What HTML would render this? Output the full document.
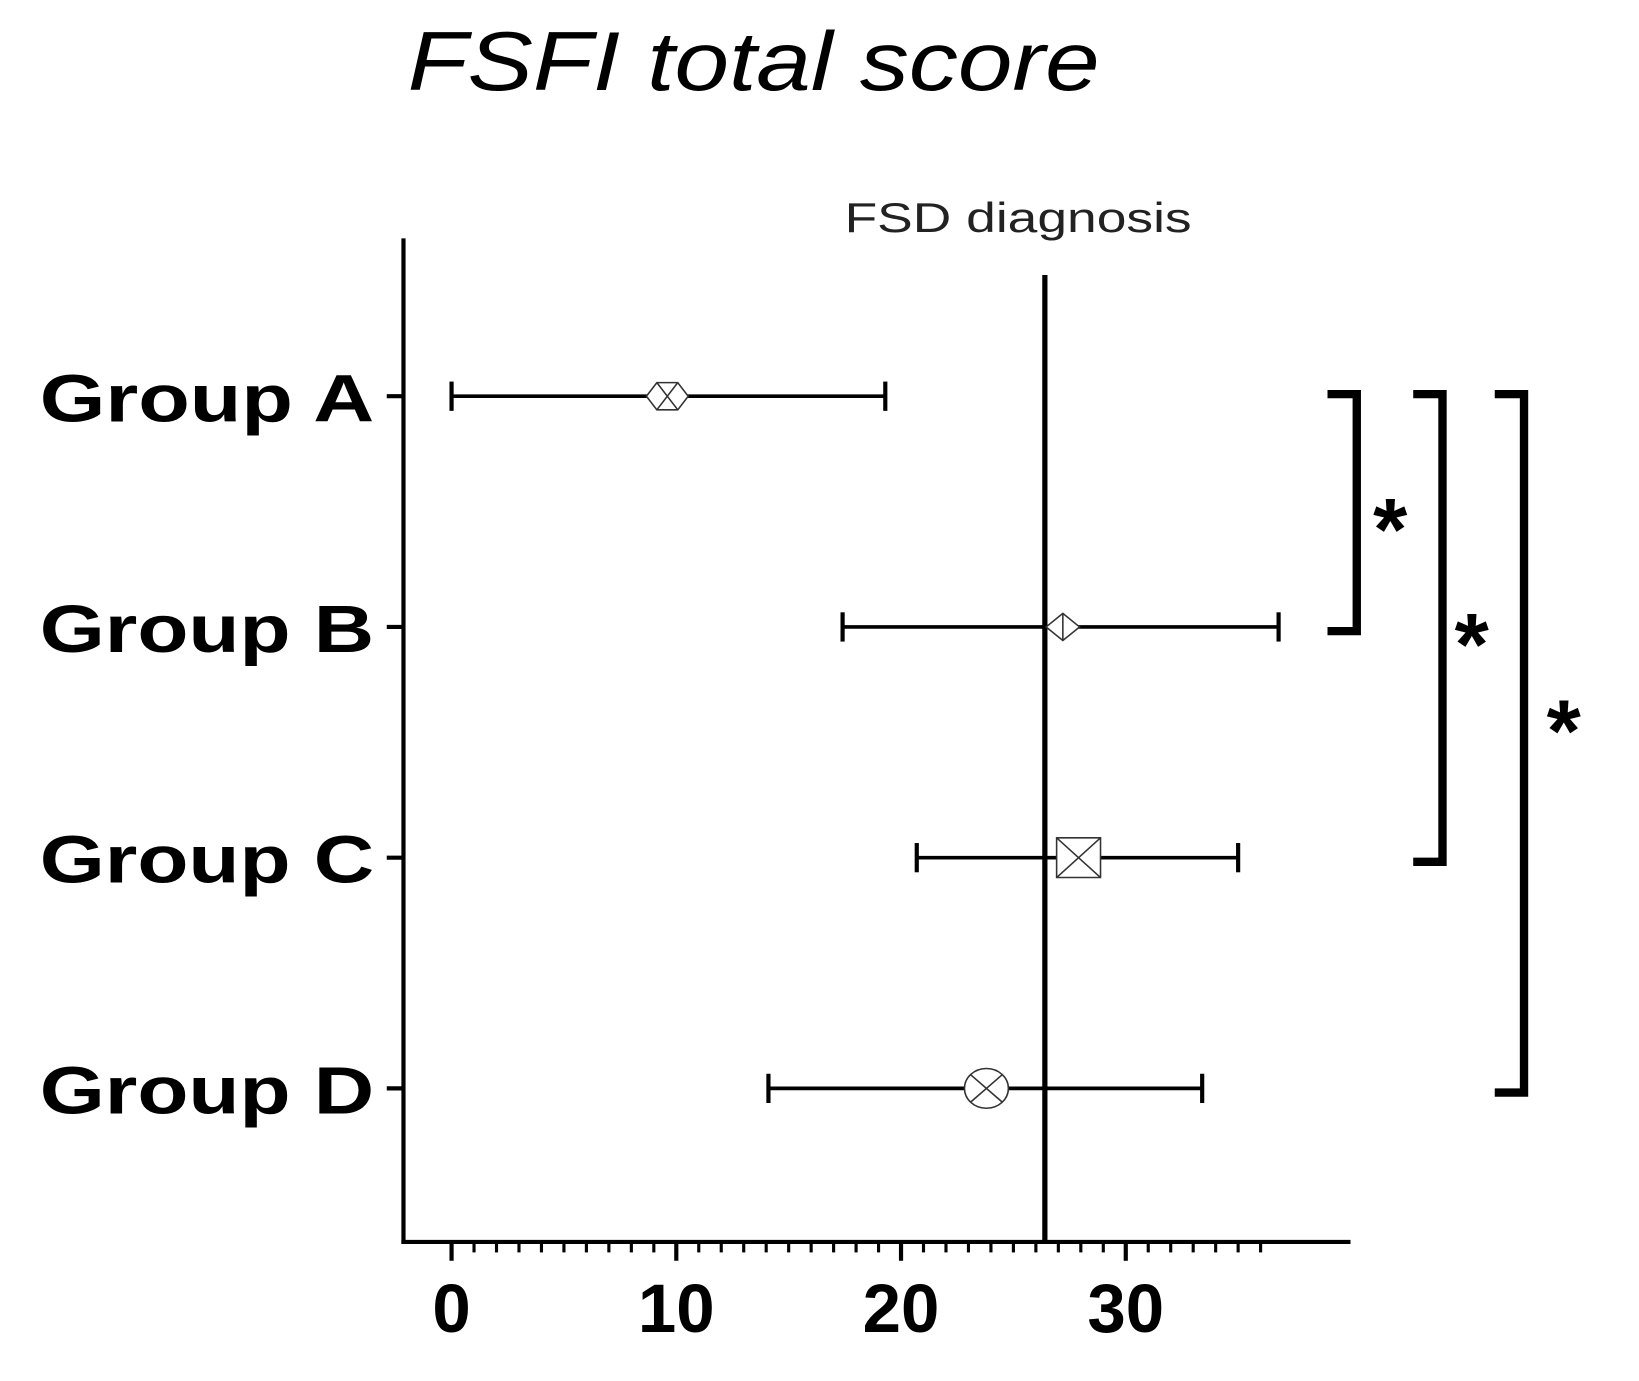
<!DOCTYPE html>
<html><head><meta charset="utf-8"><style>
html,body{margin:0;padding:0;background:#fff;}
svg{display:block;}
</style></head><body>
<svg width="1639" height="1381" viewBox="0 0 1568 1321" preserveAspectRatio="none" xmlns="http://www.w3.org/2000/svg" font-family="Liberation Sans, sans-serif">
<text x="390" y="86" font-size="80" font-style="italic" textLength="662" lengthAdjust="spacingAndGlyphs">FSFI total score</text>
<text x="808" y="222" font-size="40" fill="#222" textLength="332" lengthAdjust="spacingAndGlyphs">FSD diagnosis</text>
<g id="plot"></g>
</svg>
<script>
const groups = ["Group A","Group B","Group C","Group D"];
const means = [9.6, 27.2, 27.9, 23.8];
const lows = [0, 17.4, 20.7, 14.1];
const highs = [19.3, 36.8, 35.0, 33.4];
const xTicks = [0, 10, 20, 30];
const fsdCutoff = 26.4;
const markers = ["hexagon","diamond","square","circle"];
const comparisons = [[0,1],[0,2],[0,3]];

const NS = "http://www.w3.org/2000/svg";
const g = document.getElementById('plot');
const x = v => 432 + v * 21.5;
const y = i => 379 + i * 220.7;
function el(tag, attrs){ const e=document.createElementNS(NS,tag); for(const k in attrs) e.setAttribute(k,attrs[k]); g.appendChild(e); return e; }

let e;
e = el('line',{x1:386,y1:228,x2:386,y2:1190,stroke:'#000','stroke-width':4});
 
e = el('line',{x1:384,y1:1188,x2:1292,y2:1188,stroke:'#000','stroke-width':4});
 
for(let v=0; v<=36; v++){
  const major = v%10===0;
  e = el('line',{x1:x(v),y1:1188,x2:x(v),y2:major?1206:1198,stroke:'#000','stroke-width':major?4:3});
  
  
}
xTicks.forEach(t=>{
  e = el('text',{x:x(t),y:1274,'text-anchor':'middle','font-size':66,'font-weight':'bold'});
  e.textContent = t;
  
  
});
e = el('line',{x1:x(fsdCutoff),y1:263,x2:x(fsdCutoff),y2:1188,stroke:'#000','stroke-width':5});
 

groups.forEach((name,i)=>{
  const yy = y(i);
  e = el('line',{x1:370,y1:yy,x2:386,y2:yy,stroke:'#000','stroke-width':4});
   
  e = el('text',{x:38,y:yy+24,'font-size':64,'font-weight':'bold',textLength:320,lengthAdjust:'spacingAndGlyphs'});
  e.textContent = name;
   
  e = el('line',{x1:x(lows[i]),y1:yy,x2:x(highs[i]),y2:yy,stroke:'#000','stroke-width':3.5});
   
  [lows[i],highs[i]].forEach(v=>{
    e = el('line',{x1:x(v),y1:yy-14,x2:x(v),y2:yy+14,stroke:'#000','stroke-width':4});
     
  });
  const cx = x(means[i]), m = markers[i];
  let d;
  if(m==='hexagon') d=`M${cx-20},${yy} L${cx-10},${yy-13} L${cx+10},${yy-13} L${cx+20},${yy} L${cx+10},${yy+13} L${cx-10},${yy+13} Z M${cx-10},${yy-13} L${cx+10},${yy+13} M${cx+10},${yy-13} L${cx-10},${yy+13}`;
  else if(m==='diamond') d=`M${cx-16},${yy} L${cx},${yy-13} L${cx+16},${yy} L${cx},${yy+13} Z M${cx},${yy-13} L${cx},${yy+13}`;
  else if(m==='square') d=`M${cx-21},${yy-19} h42 v38 h-42 Z M${cx-21},${yy-19} L${cx+21},${yy+19} M${cx+21},${yy-19} L${cx-21},${yy+19}`;
  else d=`M${cx-21},${yy} a21,19 0 1,0 42,0 a21,19 0 1,0 -42,0 M${cx-15},${yy-13} L${cx+15},${yy+13} M${cx+15},${yy-13} L${cx-15},${yy+13}`;
  e = el('path',{d:d,fill:'#fff',stroke:'#333','stroke-width':1.5});
   
});

const bx = [1298, 1380, 1458];
const sx = [1330, 1408, 1496];
const sy = [535, 645, 728];
comparisons.forEach((c,k)=>{
  const y1 = y(c[0])-2, y2 = y(c[1])+4;
  e = el('path',{d:`M${bx[k]-28},${y1} H${bx[k]} V${y2} H${bx[k]-28}`,fill:'none',stroke:'#000','stroke-width':8});
   
  e = el('text',{x:sx[k],y:sy[k],'text-anchor':'middle','font-size':84,'font-weight':'bold'});
  e.textContent = '*';
   
});
</script>
</body></html>
